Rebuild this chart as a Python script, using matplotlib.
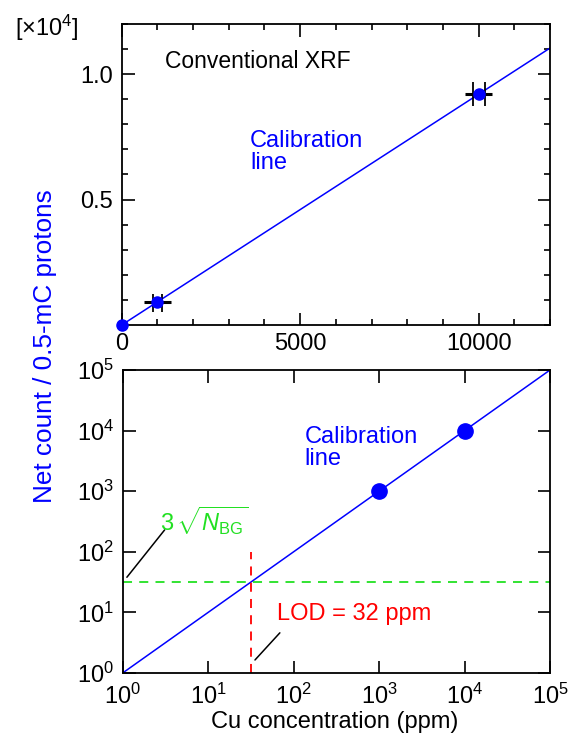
import matplotlib
matplotlib.use("Agg")
import matplotlib.pyplot as plt
from matplotlib.ticker import MultipleLocator, FixedLocator, NullLocator
import numpy as np

plt.rcParams['font.family'] = ['Liberation Sans', 'DejaVu Sans']
plt.rcParams['mathtext.fontset'] = 'custom'
plt.rcParams['mathtext.rm'] = 'Liberation Sans'
plt.rcParams['mathtext.it'] = 'Liberation Sans:italic'
plt.rcParams['mathtext.bf'] = 'Liberation Sans:bold'

# top panel: conventional XRF (linear)
lin_conc = [0, 1000, 10000]
lin_counts = [0, 920, 9200]
lin_fit_x = [0, 12000]
lin_fit_y = [0, 11040]
std_conc = [1000, 10000]
std_counts = [920, 9200]
std_xerr = [370, 370]
rep_conc = [[870, 1130], [9830, 10170]]
rep_counts = [[880, 880], [9200, 9200]]
rep_yerr = [350, 470]

# bottom panel: log-log
log_conc = [1000, 10000]
log_counts = [1000, 10000]
log_fit_x = [1, 1e5]
log_fit_y = [1, 1e5]
bg_level = 32       # 3 sqrt(N_BG)
lod = 32            # ppm
log_ticks = [1, 10, 100, 1000, 10000, 100000]
log_labels = [r'$10^{%d}$' % i for i in range(6)]

FS = 17
BLUE = '#0000ff'
GREEN = '#22e022'

fig = plt.figure(figsize=(5.73, 7.42), dpi=100)
ax1 = fig.add_axes([0.2124, 0.562, 0.7475, 0.4057])
ax2 = fig.add_axes([0.2141, 0.093, 0.7459, 0.4084])

for ax in (ax1, ax2):
    for s in ax.spines.values():
        s.set_linewidth(1.3)
    ax.tick_params(which='both', direction='in', top=True, right=True,
                   labelsize=FS, width=1.2, pad=6)
    ax.tick_params(which='major', length=9)
    ax.tick_params(which='minor', length=4.5)

# ---- top
ax1.plot(lin_fit_x, lin_fit_y, color=BLUE, lw=1.1)
ax1.errorbar(std_conc, std_counts, xerr=std_xerr, fmt='none', ecolor='black',
             elinewidth=2.2, capsize=0)
for xs, ys, e in zip(rep_conc, rep_counts, rep_yerr):
    ax1.errorbar(xs, ys, yerr=e, fmt='none', ecolor='black', elinewidth=1.3,
                 capsize=0)
ax1.plot(lin_conc, lin_counts, 'o', color=BLUE, ms=8, clip_on=False, zorder=5)
ax1.set_xlim(0, 12000)
ax1.set_ylim(0, 12000)
ax1.xaxis.set_major_locator(FixedLocator([0, 5000, 10000]))
ax1.xaxis.set_minor_locator(MultipleLocator(1000))
ax1.yaxis.set_major_locator(FixedLocator([5000, 10000]))
ax1.yaxis.set_minor_locator(MultipleLocator(1000))
ax1.set_xticklabels(['0', '5000', '10000'])
ax1.set_yticklabels(['0.5', '1.0'])
ax1.text(0.101, 0.874, 'Conventional XRF', transform=ax1.transAxes,
         fontsize=16.5, va='center', ha='left')
ax1.text(0.30, 0.575, 'Calibration\nline', transform=ax1.transAxes,
         fontsize=FS, va='center', ha='left', color=BLUE, linespacing=1.0)

# ---- bottom
ax2.set_xscale('log')
ax2.set_yscale('log')
ax2.plot(log_fit_x, log_fit_y, color=BLUE, lw=1.1)
ax2.axhline(bg_level, color=GREEN, lw=1.3, ls=(0, (5, 4)))
ax2.plot([lod, lod], [1, 100], color='red', lw=1.3, ls=(0, (5, 4)))
ax2.plot(log_conc, log_counts, 'o', color=BLUE, ms=11, zorder=5)
ax2.set_xlim(1, 1e5)
ax2.set_ylim(1, 1e5)
for axis in (ax2.xaxis, ax2.yaxis):
    axis.set_major_locator(FixedLocator(log_ticks))
    axis.set_minor_locator(NullLocator())
ax2.set_xticklabels(log_labels)
ax2.set_yticklabels(log_labels)
ax2.tick_params(axis='x', pad=8)

ax2.text(0.426, 0.743, 'Calibration\nline', transform=ax2.transAxes,
         fontsize=FS, va='center', ha='left', color=BLUE, linespacing=1.0)
ax2.annotate('', xy=(1.12, 38), xytext=(3.1, 230),
             arrowprops=dict(arrowstyle='-', color='black', lw=1.1,
                             shrinkA=0, shrinkB=0))
ax2.text(2.75, 330, r'$3\,\sqrt{N_{\mathrm{BG}}}$', fontsize=FS, color=GREEN,
         va='center', ha='left')
ax2.annotate('', xy=(35.3, 1.64), xytext=(69, 4.6),
             arrowprops=dict(arrowstyle='-', color='black', lw=1.1,
                             shrinkA=0, shrinkB=0))
ax2.text(64, 9.4, 'LOD = 32 ppm', fontsize=FS, color='red',
         va='center', ha='left')

fig.text(15 / 573, 1 - 28 / 742, r'[$\times$10$^{4}$]', fontsize=FS,
         va='center', ha='left')
fig.text(45 / 573, 1 - 346 / 742, 'Net count / 0.5-mC protons',
         fontsize=18.8, color=BLUE, rotation=90, va='center', ha='center')
fig.text(335 / 573, 1 - 722 / 742, 'Cu concentration (ppm)', fontsize=FS,
         va='center', ha='center')

fig.savefig('out.png', dpi=100)
